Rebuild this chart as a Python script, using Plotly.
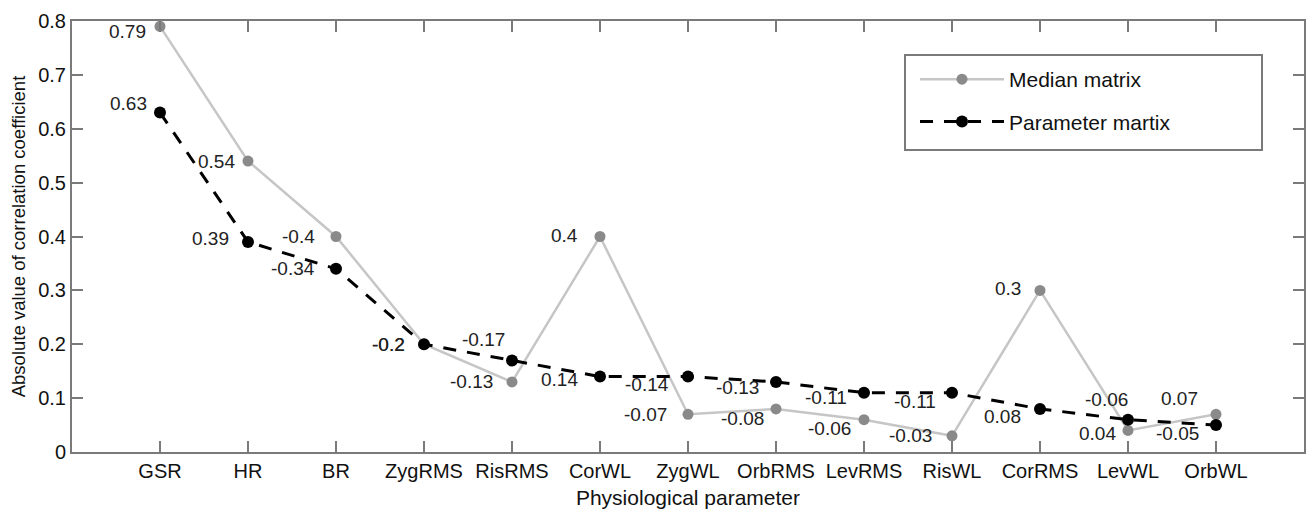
import plotly.graph_objects as go

# Physiological parameters on the x axis
categories = ["GSR", "HR", "BR", "ZygRMS", "RisRMS", "CorWL", "ZygWL",
              "OrbRMS", "LevRMS", "RisWL", "CorRMS", "LevWL", "OrbWL"]

# Absolute values of the correlation coefficients
median_values = [0.79, 0.54, 0.40, 0.20, 0.13, 0.40, 0.07,
                 0.08, 0.06, 0.03, 0.30, 0.04, 0.07]
parameter_values = [0.63, 0.39, 0.34, 0.20, 0.17, 0.14, 0.14,
                    0.13, 0.11, 0.11, 0.08, 0.06, 0.05]

# Signed coefficients printed next to each point
median_labels = ["0.79", "0.54", "-0.4", "-0.2", "-0.13", "0.4", "-0.07",
                 "-0.08", "-0.06", "-0.03", "0.3", "0.04", "0.07"]
parameter_labels = ["0.63", "0.39", "-0.34", "-0.2", "-0.17", "0.14", "-0.14",
                    "-0.13", "-0.11", "-0.11", "0.08", "-0.06", "-0.05"]

y_ticks = [0, 0.1, 0.2, 0.3, 0.4, 0.5, 0.6, 0.7, 0.8]
y_tick_text = ["0", "0.1", "0.2", "0.3", "0.4", "0.5", "0.6", "0.7", "0.8"]

# Label placement relative to each point (pixels: right, down)
median_offsets = [(-12, 5), (-11, 0), (-19, 0), (-17, 0), (-17, 0), (-20, -1),
                  (-19, 0), (-10, 10), (-11, 9), (-18, 0), (-17, -2),
                  (-10, 3), (-16, -16)]
parameter_offsets = [(-11, -9), (-17, -3), (-19, 0), (-17, 0), (-5, -21),
                     (-20, 3), (-17, 8), (-15, 6), (-15, 5), (-14, 9),
                     (-17, 8), (2, -20), (-15, 8)]

FONT = "Liberation Sans, Arial, Helvetica, sans-serif"
AXIS_GREY = "#7a7a7a"
TEXT = "#111111"

# plot area in pixels, used to place the legend frame
PLOT_L, PLOT_R, PLOT_T, PLOT_B = 72, 1304, 21, 452


def px_x(px):
    return (px - PLOT_L) / (PLOT_R - PLOT_L)


def px_y(px):
    return (PLOT_B - px) / (PLOT_B - PLOT_T)


fig = go.Figure()

fig.add_trace(go.Scatter(
    x=categories, y=median_values, name="Median matrix",
    mode="lines+markers", legendgroup="median",
    line=dict(color="#c6c6c6", width=2.5),
    marker=dict(color="#8a8a8a", size=11),
))
fig.add_trace(go.Scatter(
    x=categories, y=parameter_values, name="Parameter martix",
    mode="lines+markers", legendgroup="parameter",
    line=dict(color="#000000", width=3, dash="13px,11px"),
    marker=dict(color="#000000", size=12),
))

annotations = []
for cat, val, txt, (dx, dy) in zip(categories, median_values,
                                   median_labels, median_offsets):
    annotations.append(dict(x=cat, y=val, text=txt, showarrow=False,
                            xanchor="right", yanchor="middle",
                            xshift=dx, yshift=-dy))
for cat, val, txt, (dx, dy) in zip(categories, parameter_values,
                                   parameter_labels, parameter_offsets):
    annotations.append(dict(x=cat, y=val, text=txt, showarrow=False,
                            xanchor="right", yanchor="middle",
                            xshift=dx, yshift=-dy))
for a in annotations:
    a["font"] = dict(family=FONT, size=19, color="#222222")

# legend frame
fig.add_shape(type="rect", xref="paper", yref="paper",
              x0=px_x(905), x1=px_x(1262), y0=px_y(150), y1=px_y(55),
              line=dict(color=AXIS_GREY, width=2), fillcolor="white",
              layer="below")

fig.update_layout(
    width=1307, height=509,
    margin=dict(l=PLOT_L, r=1307 - PLOT_R, t=PLOT_T, b=509 - PLOT_B),
    paper_bgcolor="white", plot_bgcolor="white",
    font=dict(family=FONT, size=20, color=TEXT),
    annotations=annotations,
    showlegend=True,
    legend=dict(
        x=px_x(915), y=px_y(59), xanchor="left", yanchor="top",
        bgcolor="rgba(0,0,0,0)", borderwidth=0,
        font=dict(family=FONT, size=21, color=TEXT),
        itemwidth=84, traceorder="grouped", tracegroupgap=12,
    ),
    xaxis=dict(
        type="category", range=[-1, 13],
        showline=True, linecolor=AXIS_GREY, linewidth=2, mirror="ticks",
        ticks="inside", ticklen=11, tickwidth=2, tickcolor=AXIS_GREY,
        showgrid=False, zeroline=False,
        tickfont=dict(family=FONT, size=20, color=TEXT),
        title=dict(text="Physiological parameter", standoff=9,
                   font=dict(family=FONT, size=21, color=TEXT)),
        automargin=False,
    ),
    yaxis=dict(
        range=[0, 0.8], tickvals=y_ticks, ticktext=y_tick_text,
        showline=True, linecolor=AXIS_GREY, linewidth=2, mirror="ticks",
        ticks="inside", ticklen=11, tickwidth=2, tickcolor=AXIS_GREY,
        showgrid=False, zeroline=False,
        tickfont=dict(family=FONT, size=20, color=TEXT),
        title=dict(text="Absolute value of correlation coefficient",
                   standoff=8,
                   font=dict(family=FONT, size=18.5, color=TEXT)),
        automargin=False,
    ),
)

fig.write_html("out.html")
